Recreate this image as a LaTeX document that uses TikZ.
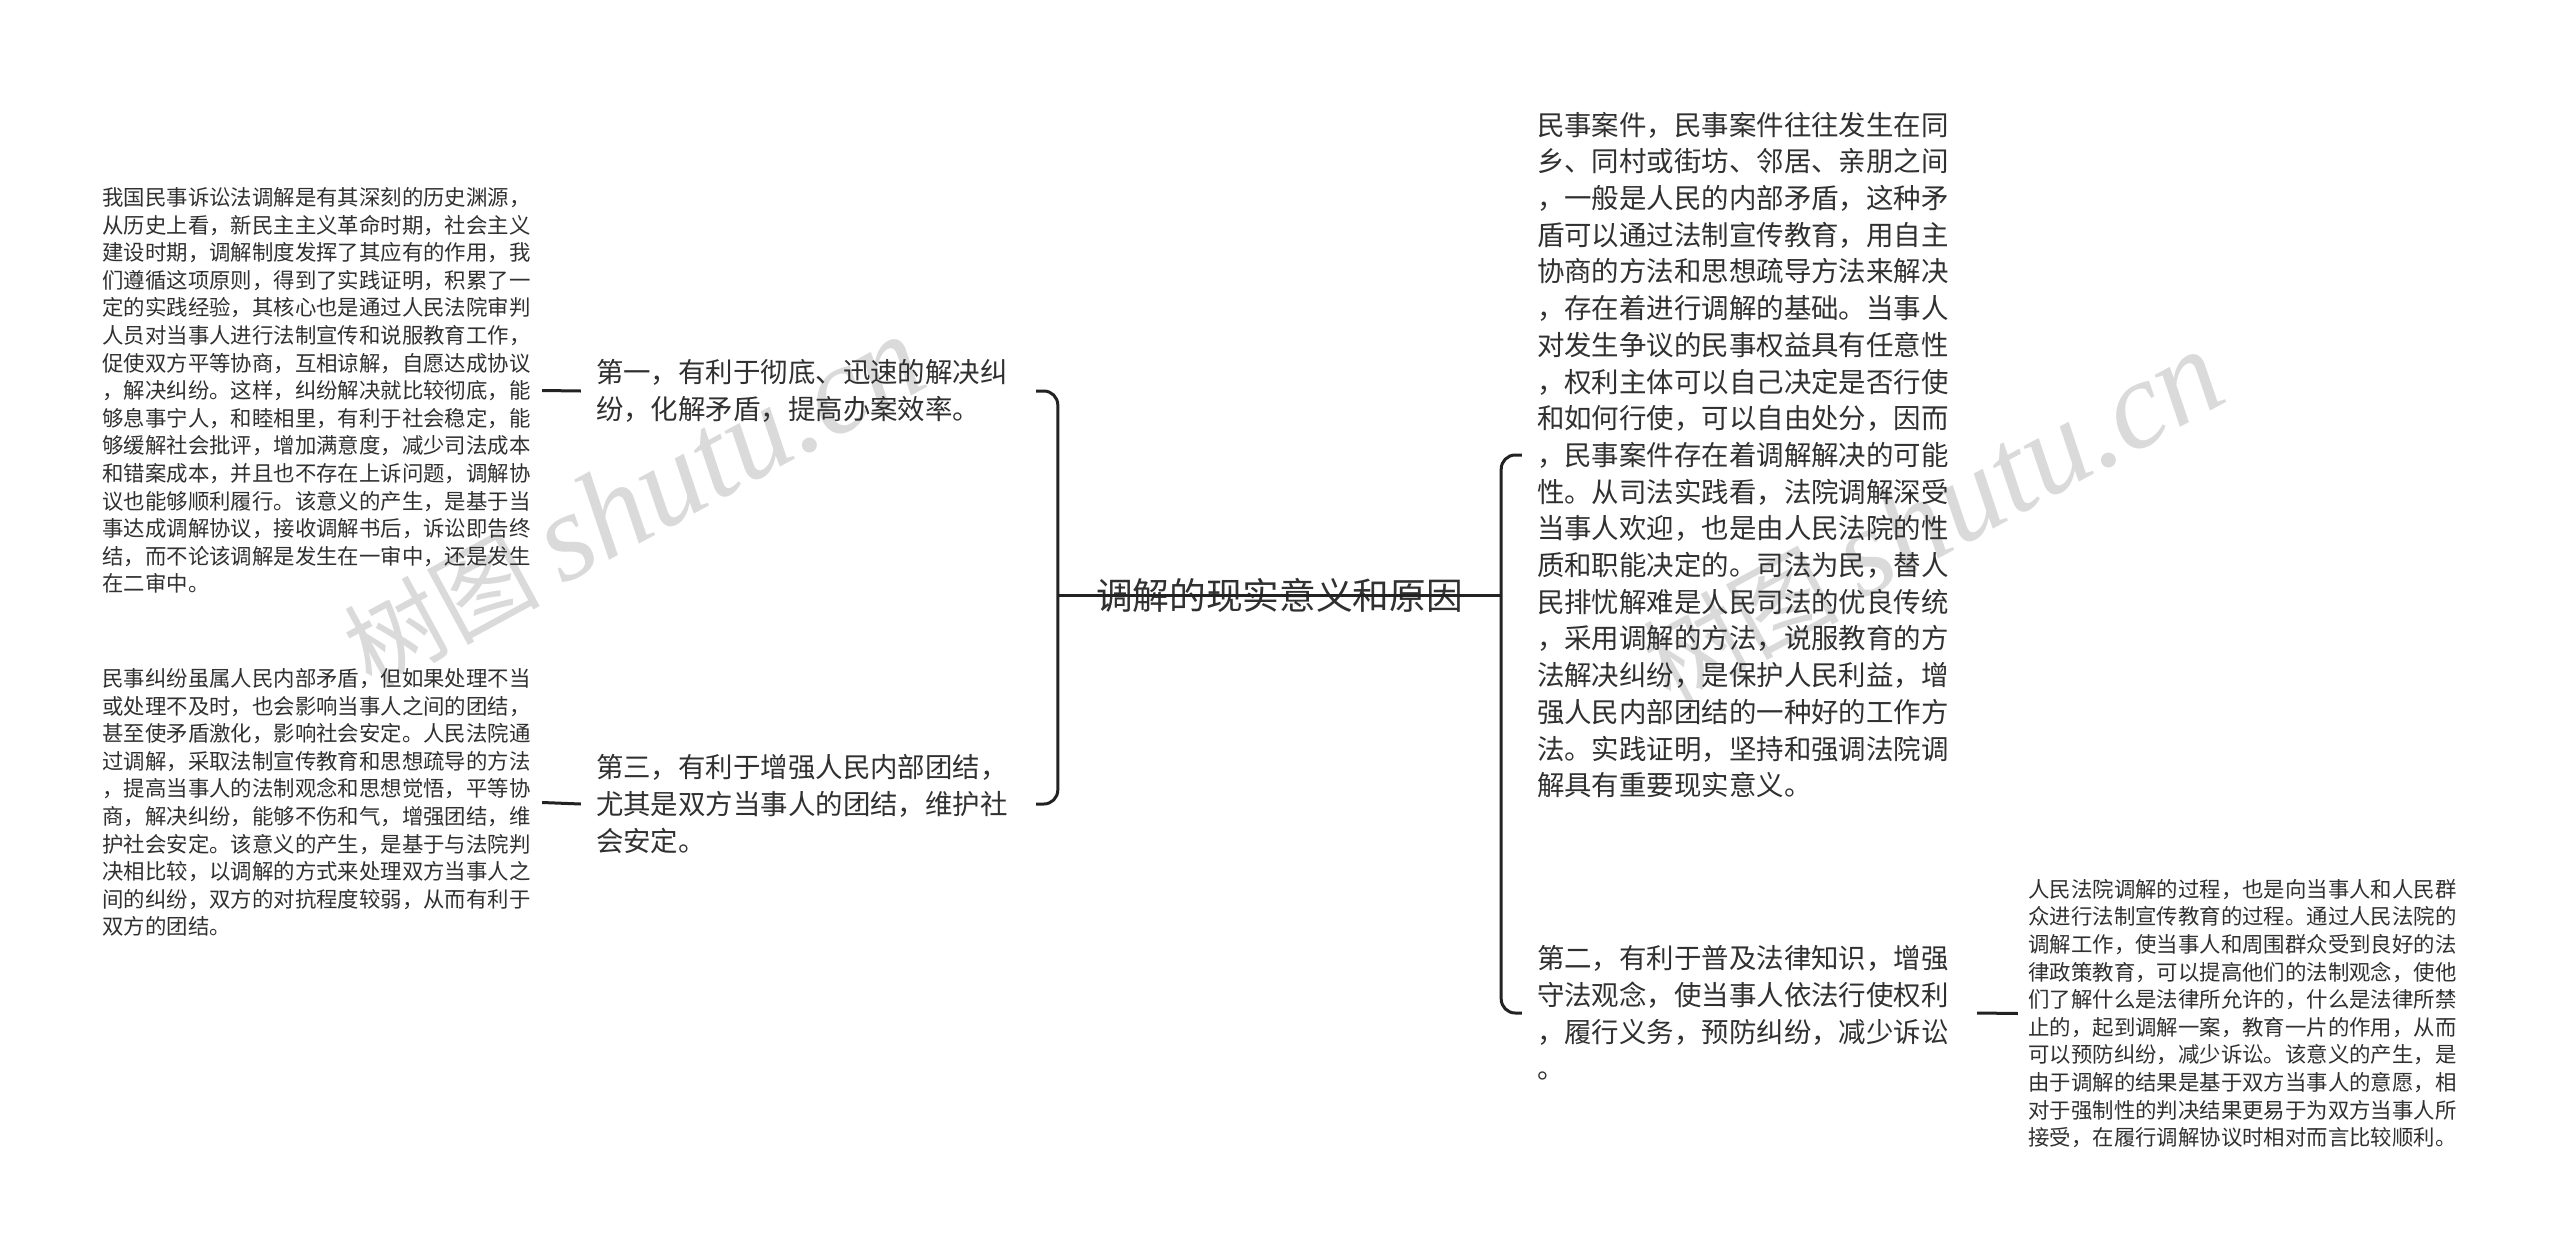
\documentclass[tikz,border=0pt]{standalone}
\usepackage{fontspec}
\setmainfont{Noto Sans CJK SC}
\newfontfamily\markfont[Scale=1.28]{Liberation Serif}
\definecolor{inkline}{HTML}{222222}
\definecolor{inktext}{HTML}{303030}
\definecolor{markgray}{HTML}{DADADA}
\tikzset{
  link/.style={draw=inkline, line width=3pt},
  rootnode/.style={inner xsep=38pt, inner ysep=0pt, text=inktext, font=\fontsize{36.7}{44}\selectfont},
  midnode/.style={inner xsep=15pt, inner ysep=0pt, text width=425pt, align=left, text=inktext, font=\fontsize{27.45}{36.7}\selectfont},
  leafnode/.style={inner xsep=10.5pt, inner ysep=0pt, text width=429pt, align=left, text=inktext, font=\fontsize{21.4}{27.6}\selectfont},
  marknode/.style={rotate=28.5, text=markgray, inner sep=0pt, anchor=west, font=\fontsize{98}{98}\selectfont}
}
\begin{document}
\begin{tikzpicture}[x=1pt,y=-1pt]
\useasboundingbox (0,0) rectangle (2560,1253);
\fill[white] (0,0) rectangle (2560,1253);

% watermark
\node[marknode] (marka) at (352,655) {树图 {\markfont\itshape shutu.cn}};
\node[marknode] (markb) at (1651,670) {树图 {\markfont\itshape shutu.cn}};

% centre
\node[rootnode] (root) at (1279.5,595) {调解的现实意义和原因};

% left side
\node[midnode] (first) at (808.5,391) {第一，有利于彻底、迅速的解决纠\\纷，化解矛盾，提高办案效率。};
\node[midnode] (third) at (808.5,804) {第三，有利于增强人民内部团结，\\尤其是双方当事人的团结，维护社\\会安定。};
\node[leafnode] (firstleaf) at (317,390.5) {我国民事诉讼法调解是有其深刻的历史渊源，\\从历史上看，新民主主义革命时期，社会主义\\建设时期，调解制度发挥了其应有的作用，我\\们遵循这项原则，得到了实践证明，积累了一\\定的实践经验，其核心也是通过人民法院审判\\人员对当事人进行法制宣传和说服教育工作，\\促使双方平等协商，互相谅解，自愿达成协议\\，解决纠纷。这样，纠纷解决就比较彻底，能\\够息事宁人，和睦相里，有利于社会稳定，能\\够缓解社会批评，增加满意度，减少司法成本\\和错案成本，并且也不存在上诉问题，调解协\\议也能够顺利履行。该意义的产生，是基于当\\事达成调解协议，接收调解书后，诉讼即告终\\结，而不论该调解是发生在一审中，还是发生\\在二审中。};
\node[leafnode] (thirdleaf) at (317,802.5) {民事纠纷虽属人民内部矛盾，但如果处理不当\\或处理不及时，也会影响当事人之间的团结，\\甚至使矛盾激化，影响社会安定。人民法院通\\过调解，采取法制宣传教育和思想疏导的方法\\，提高当事人的法制观念和思想觉悟，平等协\\商，解决纠纷，能够不伤和气，增强团结，维\\护社会安定。该意义的产生，是基于与法院判\\决相比较，以调解的方式来处理双方当事人之\\间的纠纷，双方的对抗程度较弱，从而有利于\\双方的团结。};

% right side
\node[midnode] (reason) at (1749.5,455) {民事案件，民事案件往往发生在同\\乡、同村或街坊、邻居、亲朋之间\\，一般是人民的内部矛盾，这种矛\\盾可以通过法制宣传教育，用自主\\协商的方法和思想疏导方法来解决\\，存在着进行调解的基础。当事人\\对发生争议的民事权益具有任意性\\，权利主体可以自己决定是否行使\\和如何行使，可以自由处分，因而\\，民事案件存在着调解解决的可能\\性。从司法实践看，法院调解深受\\当事人欢迎，也是由人民法院的性\\质和职能决定的。司法为民，替人\\民排忧解难是人民司法的优良传统\\，采用调解的方法，说服教育的方\\法解决纠纷，是保护人民利益，增\\强人民内部团结的一种好的工作方\\法。实践证明，坚持和强调法院调\\解具有重要现实意义。};
\node[midnode] (second) at (1749.5,1013) {第二，有利于普及法律知识，增强\\守法观念，使当事人依法行使权利\\，履行义务，预防纠纷，减少诉讼\\。};
\node[leafnode] (secondleaf) at (2243,1013.5) {人民法院调解的过程，也是向当事人和人民群\\众进行法制宣传教育的过程。通过人民法院的\\调解工作，使当事人和周围群众受到良好的法\\律政策教育，可以提高他们的法制观念，使他\\们了解什么是法律所允许的，什么是法律所禁\\止的，起到调解一案，教育一片的作用，从而\\可以预防纠纷，减少诉讼。该意义的产生，是\\由于调解的结果是基于双方当事人的意愿，相\\对于强制性的判决结果更易于为双方当事人所\\接受，在履行调解协议时相对而言比较顺利。};

% connectors
\draw[link] (firstleaf.east) -- (first.west);
\draw[link] (thirdleaf.east) -- (third.west);
\draw[link] (second.east) -- (secondleaf.west);
\draw[link] (root.west) -- (root.east);
\draw[link, rounded corners=14pt] (first.east) -| (root.west) |- (third.east);
\draw[link, rounded corners=14pt] (reason.west) -| (root.east) |- (second.west);

\end{tikzpicture}
\end{document}
